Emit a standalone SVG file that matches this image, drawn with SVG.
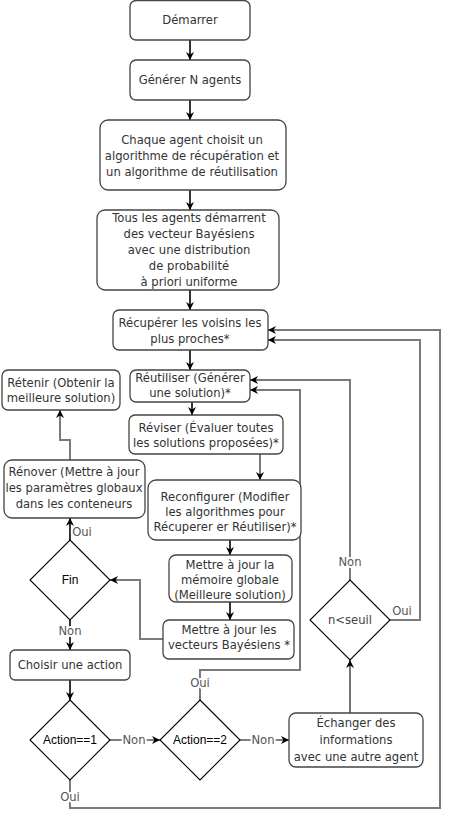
<svg xmlns="http://www.w3.org/2000/svg" width="449" height="819" viewBox="0 0 449 819">
<style>
.box{fill:#fff;stroke:#444;stroke-width:1.3}
.dia{fill:#fff;stroke:#000;stroke-width:1.1}
.t{font-family:"DejaVu Sans",sans-serif;font-size:11.6px;fill:#333;text-anchor:middle}
.d{font-family:"Liberation Sans",Arial,sans-serif;font-size:12px;fill:#000;text-anchor:middle}
.lbl{font-family:"DejaVu Sans",sans-serif;font-size:11.6px;fill:#555;text-anchor:middle;stroke:#fff;stroke-width:4;paint-order:stroke;stroke-linejoin:round}
.k{fill:none;stroke:#000;stroke-width:1.6}
.kt{fill:none;stroke:#000;stroke-width:1.1}
.g{fill:none;stroke:#7a7a7a;stroke-width:2}
</style>
<defs>
<marker id="ar" viewBox="0 0 10 10" refX="10" refY="5" markerWidth="8" markerHeight="8" markerUnits="userSpaceOnUse" orient="auto">
<path d="M0,0 L10,5 L0,10 L3,5 z" fill="#000"/>
</marker>
</defs>
<g id="connectors">
<path class="k" d="M190,40 V60" marker-end="url(#ar)"/>
<path class="k" d="M190,100 V120" marker-end="url(#ar)"/>
<path class="k" d="M190,190 V210" marker-end="url(#ar)"/>
<path class="k" d="M190,290 V310" marker-end="url(#ar)"/>
<path class="k" d="M190,350 V370" marker-end="url(#ar)"/>
<path class="k" d="M192,402 V415" marker-end="url(#ar)"/>
<path class="g" d="M260,454 V480" marker-end="url(#ar)"/>
<path class="k" d="M230,540 V555" marker-end="url(#ar)"/>
<path class="k" d="M230,602 V620" marker-end="url(#ar)"/>
<path class="g" d="M163,639 H140 V580 H110" marker-end="url(#ar)"/>
<path class="k" d="M70,540 V518" marker-end="url(#ar)"/>
<path class="g" d="M70,460 V440 H60 V410" marker-end="url(#ar)"/>
<path class="k" d="M70,620 V650" marker-end="url(#ar)"/>
<path class="k" d="M70,680 V700" marker-end="url(#ar)"/>
<path class="kt" d="M110,740 H160" marker-end="url(#ar)"/>
<path class="g" d="M70,780 V808 H440 V330 H268" marker-end="url(#ar)"/>
<path class="g" d="M200,700 V670 H300 V390 H250" marker-end="url(#ar)"/>
<path class="kt" d="M240,740 H289" marker-end="url(#ar)"/>
<path class="kt" d="M350,713 V660" marker-end="url(#ar)"/>
<path class="g" d="M350,580 V380 H250" marker-end="url(#ar)"/>
<path class="g" d="M390,620 H420 V340 H268" marker-end="url(#ar)"/>
<text class="lbl" x="82" y="536">Oui</text>
<text class="lbl" x="70" y="635">Non</text>
<text class="lbl" x="200" y="687">Oui</text>
<text class="lbl" x="70" y="801">Oui</text>
<text class="lbl" x="134" y="744">Non</text>
<text class="lbl" x="263" y="744">Non</text>
<text class="lbl" x="350" y="566">Non</text>
<text class="lbl" x="402" y="615">Oui</text>
</g>
<g id="demarrer"><rect class="box" x="130" y="0.5" width="120" height="39.5" rx="6"/><text class="t" x="190" y="24">Démarrer</text></g>
<g id="generer"><rect class="box" x="130" y="60" width="120" height="40" rx="6"/><text class="t" x="190" y="84">Générer N agents</text></g>
<g id="chaque"><rect class="box" x="100" y="120" width="186" height="70" rx="8"/>
<text class="t" x="192" y="144">Chaque agent choisit un</text><text class="t" x="192" y="160">algorithme de récupération et</text><text class="t" x="192" y="176">un algorithme de réutilisation</text></g>
<g id="tous"><rect class="box" x="97" y="210" width="182" height="80" rx="8"/>
<text class="t" x="189" y="222">Tous les agents démarrent</text><text class="t" x="189" y="238">des vecteur Bayésiens</text><text class="t" x="189" y="254">avec une distribution</text><text class="t" x="189" y="270">de probabilité</text><text class="t" x="189" y="286">à priori uniforme</text></g>
<g id="recuperer"><rect class="box" x="113" y="310" width="155" height="40" rx="6"/>
<text class="t" x="190" y="327">Récupérer les voisins les</text><text class="t" x="190" y="343">plus proches*</text></g>
<g id="reutiliser"><rect class="box" x="130" y="370" width="120" height="32" rx="6"/>
<text class="t" x="190" y="382">Réutiliser (Générer</text><text class="t" x="190" y="397">une solution)*</text></g>
<g id="reviser"><rect class="box" x="129" y="415" width="154" height="39" rx="6"/>
<text class="t" x="206" y="432">Réviser (Évaluer toutes</text><text class="t" x="206" y="447">les solutions proposées)*</text></g>
<g id="reconfigurer"><rect class="box" x="148" y="480" width="153" height="60" rx="8"/>
<text class="t" x="225" y="501">Reconfigurer (Modifier</text><text class="t" x="225" y="516">les algorithmes pour</text><text class="t" x="225" y="531">Récuperer er Réutiliser)*</text></g>
<g id="memoire"><rect class="box" x="169" y="555" width="123" height="47" rx="7"/>
<text class="t" x="230" y="569">Mettre à jour la</text><text class="t" x="230" y="584">mémoire globale</text><text class="t" x="230" y="599">(Meilleure solution)</text></g>
<g id="vecteurs"><rect class="box" x="163" y="620" width="131" height="39" rx="6"/>
<text class="t" x="229" y="634">Mettre à jour les</text><text class="t" x="229" y="649">vecteurs Bayésiens *</text></g>
<g id="retenir"><rect class="box" x="2" y="370" width="118" height="40" rx="6"/>
<text class="t" x="61" y="387">Rétenir (Obtenir la</text><text class="t" x="61" y="402">meilleure solution)</text></g>
<g id="renover"><rect class="box" x="4" y="460" width="141" height="58" rx="8"/>
<text class="t" x="74" y="476">Rénover (Mettre à jour</text><text class="t" x="74" y="492">les paramètres globaux</text><text class="t" x="74" y="508">dans les conteneurs</text></g>
<g id="fin"><path class="dia" d="M70,540 L110,580 L70,620 L30,580 Z"/><text class="d" x="70" y="584">Fin</text></g>
<g id="choisir"><rect class="box" x="10" y="650" width="120" height="30" rx="5"/><text class="t" x="70" y="669">Choisir une action</text></g>
<g id="action1"><path class="dia" d="M70,700 L110,740 L70,780 L30,740 Z"/><text class="d" x="70" y="744">Action==1</text></g>
<g id="action2"><path class="dia" d="M200,700 L240,740 L200,780 L160,740 Z"/><text class="d" x="200" y="744">Action==2</text></g>
<g id="echanger"><rect class="box" x="289" y="713" width="134" height="54" rx="7"/>
<text class="t" x="356" y="727">Échanger des</text><text class="t" x="356" y="744">informations</text><text class="t" x="356" y="761">avec une autre agent</text></g>
<g id="seuil"><path class="dia" d="M350,580 L390,620 L350,660 L310,620 Z"/><text class="t" x="350" y="624" style="fill:#444">n&lt;seuil</text></g>
</svg>
